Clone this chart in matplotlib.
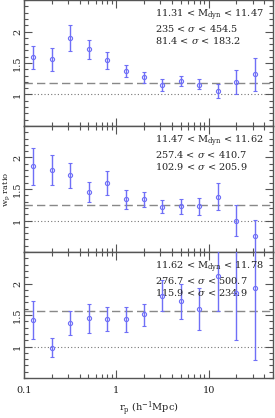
import numpy as np
import matplotlib.pyplot as plt
from matplotlib.ticker import FixedLocator, MultipleLocator, LogLocator, NullFormatter, FixedFormatter

plt.rcParams['font.family'] = ['DejaVu Serif']
plt.rcParams['mathtext.fontset'] = 'dejavuserif'

# projected separations (h^-1 Mpc)
rp = [0.126, 0.2, 0.316, 0.501, 0.794, 1.26, 2.0, 3.16, 5.01, 7.94, 12.6, 20.0, 31.6]

# panel 1: 11.31 < Mdyn < 11.47
ratio1 = [1.59, 1.56, 1.90, 1.72, 1.54, 1.37, 1.28, 1.15, 1.22, 1.15, 1.06, 1.20, 1.32]
err1_lo = [0.19, 0.18, 0.21, 0.15, 0.13, 0.10, 0.09, 0.09, 0.08, 0.07, 0.11, 0.20, 0.27]
err1_hi = [0.18, 0.18, 0.20, 0.14, 0.13, 0.10, 0.08, 0.09, 0.08, 0.09, 0.10, 0.19, 0.26]
mean1 = 1.18

# panel 2: 11.47 < Mdyn < 11.62
ratio2 = [1.86, 1.80, 1.72, 1.46, 1.60, 1.34, 1.34, 1.22, 1.23, 1.23, 1.38, 1.00, 0.76]
err2_lo = [0.30, 0.24, 0.21, 0.16, 0.19, 0.16, 0.13, 0.10, 0.12, 0.14, 0.21, 0.25, 0.31]
err2_hi = [0.29, 0.24, 0.20, 0.15, 0.19, 0.14, 0.12, 0.11, 0.11, 0.12, 0.21, 0.24, 0.25]
mean2 = 1.24

# panel 3: 11.62 < Mdyn < 11.78
ratio3 = [1.42, 0.98, 1.37, 1.45, 1.44, 1.44, 1.51, 1.80, 1.72, 1.60, 2.12, 1.85, 1.93]
err3_lo = [0.30, 0.14, 0.18, 0.23, 0.20, 0.21, 0.18, 0.24, 0.28, 0.34, 0.56, 0.74, 1.15]
err3_hi = [0.30, 0.15, 0.19, 0.23, 0.19, 0.19, 0.17, 0.25, 0.27, 0.33, 0.56, 0.74, 1.15]
mean3 = 1.56

labels = [
    ["11.31 < M$_{\\rm dyn}$ < 11.47", "235 < $\\sigma$ < 454.5", "81.4 < $\\sigma$ < 183.2"],
    ["11.47 < M$_{\\rm dyn}$ < 11.62", "257.4 < $\\sigma$ < 410.7", "102.9 < $\\sigma$ < 205.9"],
    ["11.62 < M$_{\\rm dyn}$ < 11.78", "276.7 < $\\sigma$ < 500.7", "115.9 < $\\sigma$ < 234.9"],
]

panels = [(ratio1, err1_lo, err1_hi, mean1),
          (ratio2, err2_lo, err2_hi, mean2),
          (ratio3, err3_lo, err3_hi, mean3)]

fig = plt.figure(figsize=(2.75, 4.18), dpi=100)
left, width, h = 24/275, 249/275, 126/418
bottom0 = 1 - 378/418
axc = '#555555'
txc = '#222222'
blue = '#6f6ff7'

axes = []
for i, (r, lo, hi, m) in enumerate(panels):
    ax = fig.add_axes([left, bottom0 + (2 - i) * h, width, h])
    axes.append(ax)
    ax.set_xscale('log')
    ax.set_xlim(0.1, 50)
    ax.set_ylim(0.5, 2.5)
    ax.axhline(m, color='#888888', ls=(0, (6, 3)), lw=1.0, zorder=1)
    ax.axhline(1.0, color='#777777', ls=(0, (1, 2)), lw=0.8, zorder=1)
    ax.errorbar(rp, r, yerr=[lo, hi], fmt='o', ms=3.0, mfc='none', mec=blue,
                mew=0.8, ecolor=blue, elinewidth=1.0, capsize=1.5, capthick=0.8,
                zorder=3)
    for k, t in enumerate(labels[i]):
        ax.text(0.526, 0.875 - k * 0.098, t, transform=ax.transAxes,
                fontsize=7, color=txc, va='center', ha='left')
    ax.yaxis.set_major_locator(FixedLocator([1.0, 1.5, 2.0]))
    ax.yaxis.set_minor_locator(MultipleLocator(0.1))
    ax.set_yticklabels(['1', '1.5', '2'], rotation=90, va='center')
    ax.xaxis.set_major_locator(FixedLocator([0.1, 1, 10]))
    ax.xaxis.set_minor_locator(LogLocator(base=10, subs=np.arange(2, 10)))
    ax.xaxis.set_minor_formatter(NullFormatter())
    ax.tick_params(which='both', direction='in', top=True, right=True,
                   colors=axc, labelcolor=txc, labelsize=7, width=0.8)
    ax.tick_params(which='major', length=6)
    ax.tick_params(which='minor', length=3)
    ax.tick_params(axis='x', pad=6)
    ax.tick_params(axis='y', pad=1.5)
    for s in ax.spines.values():
        s.set_color(axc)
        s.set_linewidth(1.0)
    if i < 2:
        ax.set_xticklabels([])
    else:
        ax.xaxis.set_major_formatter(FixedFormatter(['0.1', '1', '10']))
        ax.set_xlabel('r$_{\\rm p}$ (h$^{-1}$Mpc)', fontsize=7, color=txc, labelpad=3)

axes[1].set_ylabel('w$_{\\rm p}$ ratio', fontsize=6, color=txc)
axes[1].yaxis.set_label_coords(-0.05, 0.5)

fig.savefig('out.png', dpi=100)
